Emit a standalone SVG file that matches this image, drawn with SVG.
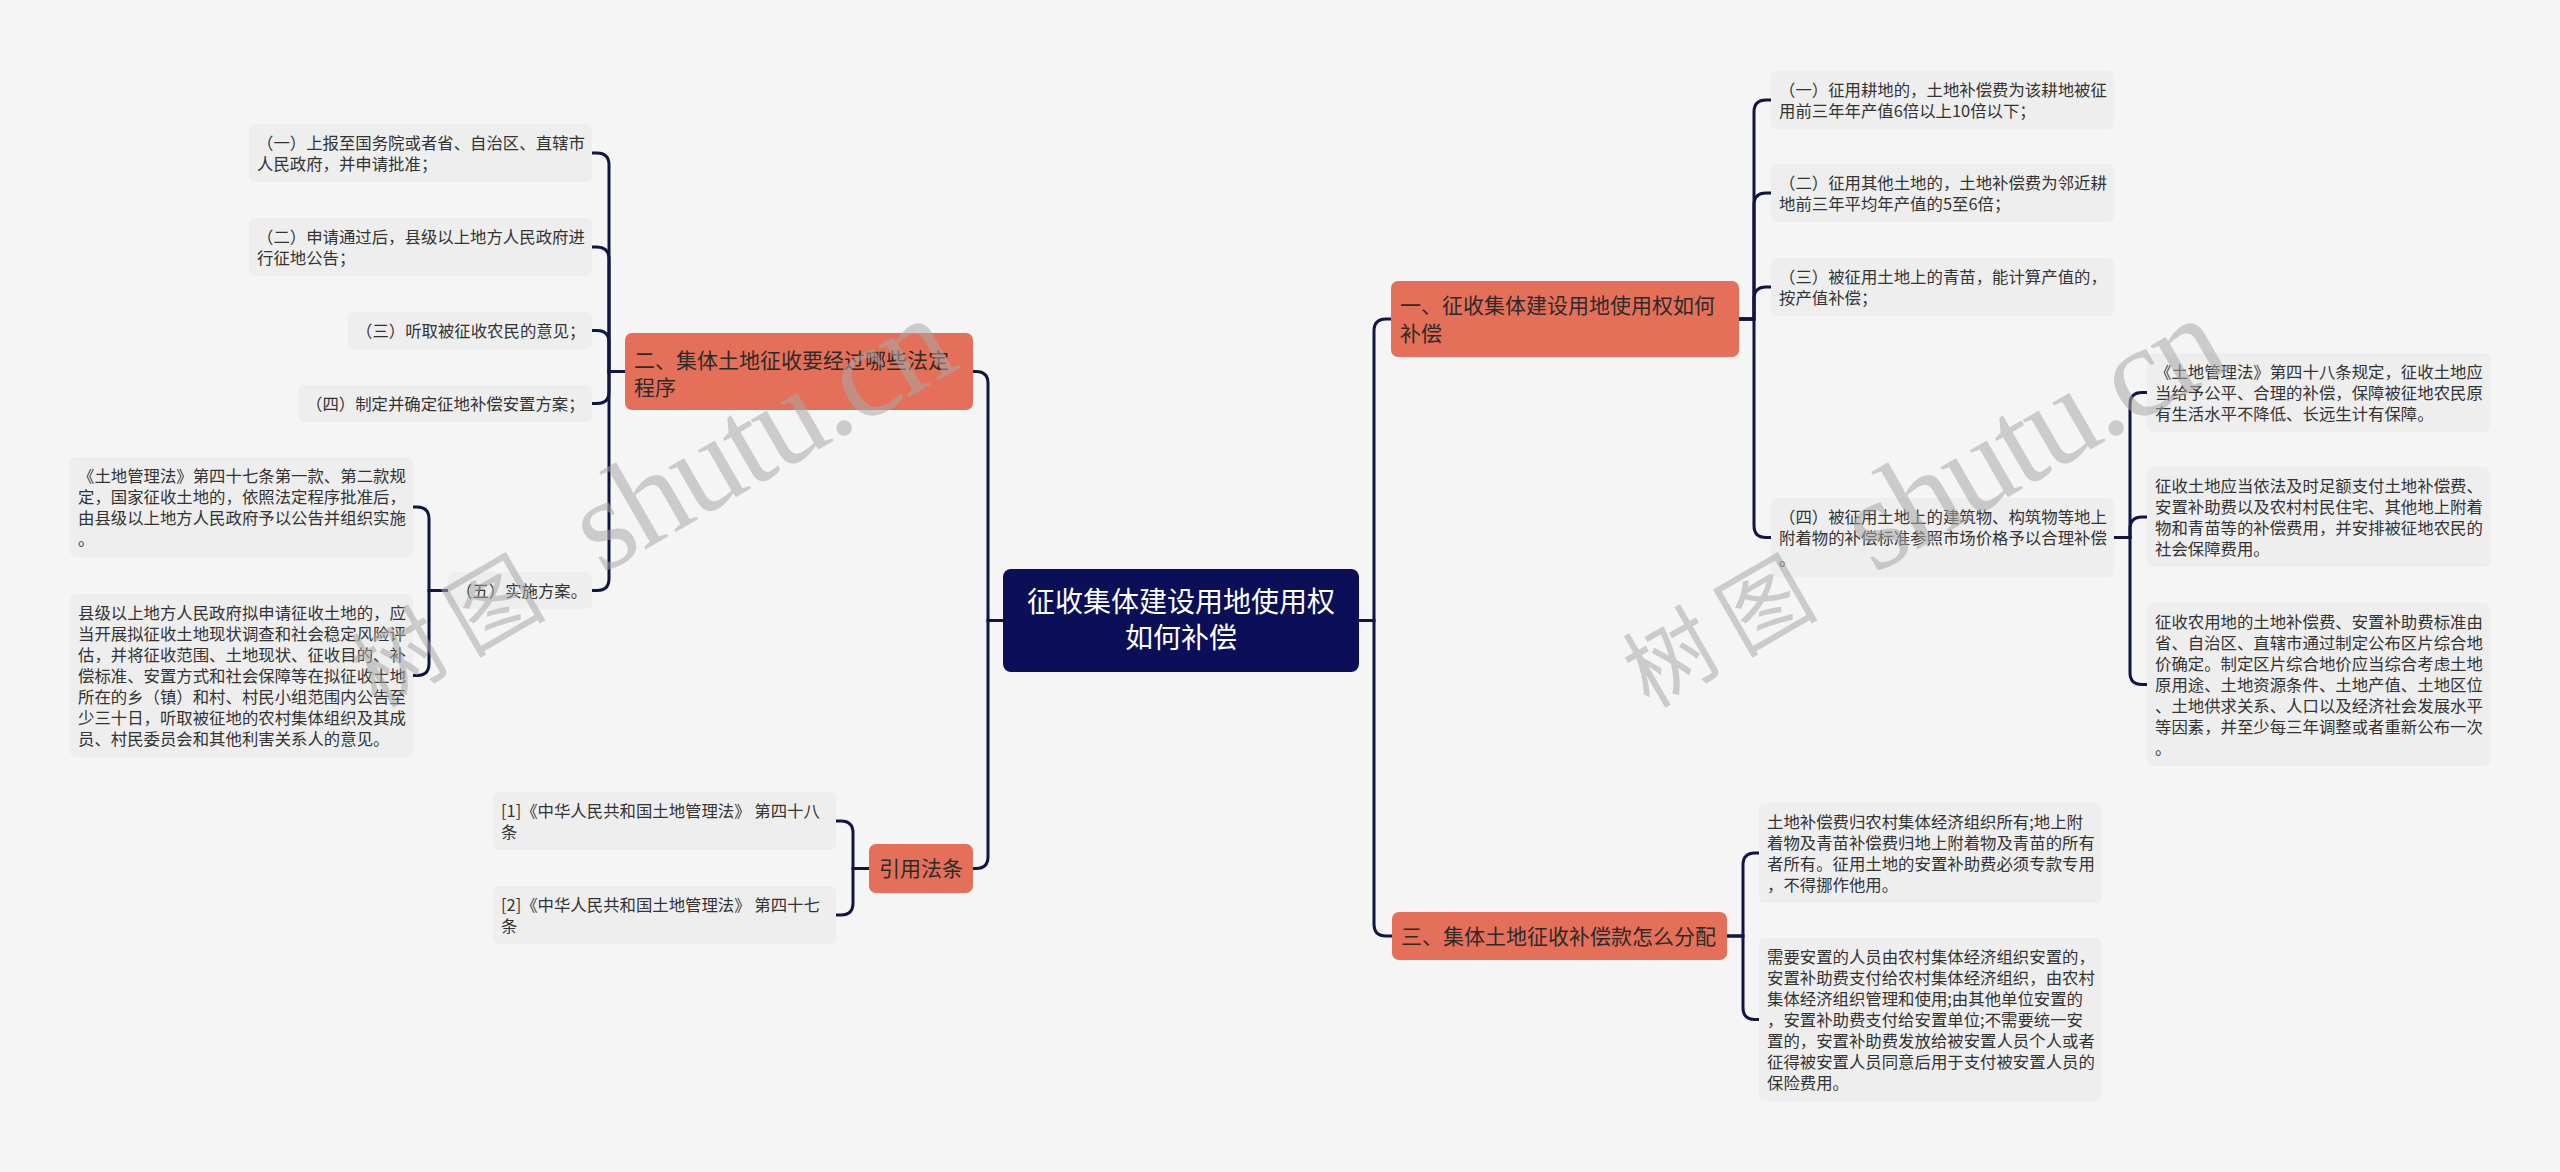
<svg xmlns="http://www.w3.org/2000/svg" width="2560" height="1172" viewBox="0 0 2560 1172">
<style>
.leaf rect{fill:#eeeeee}
.leaf text{font-family:"Noto Sans CJK SC","Noto Sans",sans-serif;font-size:16.4px;fill:#333333}
.l1 rect{fill:#e4705a}
.l1 text{font-family:"Noto Sans CJK SC","Noto Sans",sans-serif;font-size:21px;fill:#2e2a2a}
.root rect{fill:#0b0f58}
.root text{font-family:"Noto Sans CJK SC","Noto Sans",sans-serif;font-size:28px;fill:#ffffff;text-anchor:middle}
.conn path{fill:none;stroke:#101543;stroke-width:3}
.wm text{fill:#a8a8a8;fill-opacity:0.55}
.wm .cjk{font-family:"Noto Sans CJK SC",sans-serif;font-size:90px;letter-spacing:17.6px}
.wm .lat{font-family:"Liberation Serif",serif;font-size:130px;letter-spacing:-3px}
</style>
<rect width="2560" height="1172" fill="#f5f5f5"/>
<g id="connectors" class="conn">
<path d="M1003 620.5 H988 V383.5 Q988 371.5 976 371.5 H973"/>
<path d="M1003 620.5 H988 V856.5 Q988 868.5 976 868.5 H973"/>
<path d="M1359 620.5 H1374 V331 Q1374 319 1386 319 H1391"/>
<path d="M1359 620.5 H1374 V924 Q1374 936 1386 936 H1392"/>
<path d="M1739 319 H1754 V112 Q1754 100 1766 100 H1771"/>
<path d="M1739 319 H1754 V205 Q1754 193 1766 193 H1771"/>
<path d="M1739 319 H1754 V299 Q1754 287 1766 287 H1771"/>
<path d="M1739 319 H1754 V525.5 Q1754 537.5 1766 537.5 H1771"/>
<path d="M2114 537.5 H2130 V404.5 Q2130 392.5 2142 392.5 H2147"/>
<path d="M2114 537.5 H2130 V529 Q2130 517 2142 517 H2147"/>
<path d="M2114 537.5 H2130 V672.5 Q2130 684.5 2142 684.5 H2147"/>
<path d="M1727 936 H1743 V865 Q1743 853 1755 853 H1759"/>
<path d="M1727 936 H1743 V1007.5 Q1743 1019.5 1755 1019.5 H1759"/>
<path d="M625 371.5 H609 V165 Q609 153 597 153 H592"/>
<path d="M625 371.5 H609 V259 Q609 247 597 247 H592"/>
<path d="M625 371.5 H609 V342.5 Q609 330.5 597 330.5 H592"/>
<path d="M625 371.5 H609 V391.5 Q609 403.5 597 403.5 H592"/>
<path d="M625 371.5 H609 V578.5 Q609 590.5 597 590.5 H592"/>
<path d="M448 590.5 H429 V519 Q429 507 417 507 H413"/>
<path d="M448 590.5 H429 V663.5 Q429 675.5 417 675.5 H413"/>
<path d="M869 868.5 H853 V833 Q853 821 841 821 H835"/>
<path d="M869 868.5 H853 V903 Q853 915 841 915 H835"/>
</g>
<g id="root" class="root">
<rect x="1003" y="569" width="356" height="103" rx="8"/>
<text x="1181" y="612">征收集体建设用地使用权</text>
<text x="1181" y="648">如何补偿</text>
</g>
<g id="nodeA" class="l1">
<rect x="1391" y="281" width="348" height="76" rx="7"/>
<text x="1400" y="313">一、征收集体建设用地使用权如何<tspan x="1400" dy="28">补偿</tspan></text>
</g>
<g id="nodeB" class="l1">
<rect x="625" y="333" width="348" height="77" rx="7"/>
<text x="634" y="368">二、集体土地征收要经过哪些法定<tspan x="634" dy="27">程序</tspan></text>
</g>
<g id="nodeC" class="l1">
<rect x="869" y="844" width="104" height="49" rx="7"/>
<text x="879" y="876">引用法条</text>
</g>
<g id="nodeD" class="l1">
<rect x="1392" y="912" width="335" height="48" rx="7"/>
<text x="1401" y="944">三、集体土地征收补偿款怎么分配</text>
</g>
<g id="b1" class="leaf">
<rect x="249" y="124" width="343" height="58" rx="6"/>
<text x="257" y="148.5">（一）上报至国务院或者省、自治区、直辖市<tspan x="257" dy="21">人民政府，并申请批准；</tspan></text>
</g>
<g id="b2" class="leaf">
<rect x="249" y="218" width="343" height="58" rx="6"/>
<text x="257" y="242.5">（二）申请通过后，县级以上地方人民政府进<tspan x="257" dy="21">行征地公告；</tspan></text>
</g>
<g id="b3" class="leaf">
<rect x="348" y="312" width="244" height="37" rx="6"/>
<text x="356" y="336.5">（三）听取被征收农民的意见；</text>
</g>
<g id="b4" class="leaf">
<rect x="298" y="385" width="294" height="37" rx="6"/>
<text x="306" y="409.5">（四）制定并确定征地补偿安置方案；</text>
</g>
<g id="b5" class="leaf">
<rect x="448" y="572" width="144" height="37" rx="6"/>
<text x="456" y="596.5">（五）实施方案。</text>
</g>
<g id="b5a" class="leaf">
<rect x="70" y="457" width="343" height="100" rx="6"/>
<text x="78" y="481.5">《土地管理法》第四十七条第一款、第二款规<tspan x="78" dy="21">定，国家征收土地的，依照法定程序批准后，</tspan><tspan x="78" dy="21">由县级以上地方人民政府予以公告并组织实施</tspan><tspan x="78" dy="21">。</tspan></text>
</g>
<g id="b5b" class="leaf">
<rect x="70" y="594" width="343" height="163" rx="6"/>
<text x="78" y="618.5">县级以上地方人民政府拟申请征收土地的，应<tspan x="78" dy="21">当开展拟征收土地现状调查和社会稳定风险评</tspan><tspan x="78" dy="21">估，并将征收范围、土地现状、征收目的、补</tspan><tspan x="78" dy="21">偿标准、安置方式和社会保障等在拟征收土地</tspan><tspan x="78" dy="21">所在的乡（镇）和村、村民小组范围内公告至</tspan><tspan x="78" dy="21">少三十日，听取被征地的农村集体组织及其成</tspan><tspan x="78" dy="21">员、村民委员会和其他利害关系人的意见。</tspan></text>
</g>
<g id="c1" class="leaf">
<rect x="493" y="792" width="343" height="58" rx="6"/>
<text x="501" y="816.5">[1]《中华人民共和国土地管理法》 第四十八<tspan x="501" dy="21">条</tspan></text>
</g>
<g id="c2" class="leaf">
<rect x="493" y="886" width="343" height="58" rx="6"/>
<text x="501" y="910.5">[2]《中华人民共和国土地管理法》 第四十七<tspan x="501" dy="21">条</tspan></text>
</g>
<g id="a1" class="leaf">
<rect x="1771" y="71" width="343" height="58" rx="6"/>
<text x="1779" y="95.5">（一）征用耕地的，土地补偿费为该耕地被征<tspan x="1779" dy="21">用前三年年产值6倍以上10倍以下；</tspan></text>
</g>
<g id="a2" class="leaf">
<rect x="1771" y="164" width="343" height="58" rx="6"/>
<text x="1779" y="188.5">（二）征用其他土地的，土地补偿费为邻近耕<tspan x="1779" dy="21">地前三年平均年产值的5至6倍；</tspan></text>
</g>
<g id="a3" class="leaf">
<rect x="1771" y="258" width="343" height="58" rx="6"/>
<text x="1779" y="282.5">（三）被征用土地上的青苗，能计算产值的，<tspan x="1779" dy="21">按产值补偿；</tspan></text>
</g>
<g id="a4" class="leaf">
<rect x="1771" y="498" width="343" height="79" rx="6"/>
<text x="1779" y="522.5">（四）被征用土地上的建筑物、构筑物等地上<tspan x="1779" dy="21">附着物的补偿标准参照市场价格予以合理补偿</tspan><tspan x="1779" dy="21">。</tspan></text>
</g>
<g id="a4a" class="leaf">
<rect x="2147" y="353" width="343" height="79" rx="6"/>
<text x="2155" y="377.5">《土地管理法》第四十八条规定，征收土地应<tspan x="2155" dy="21">当给予公平、合理的补偿，保障被征地农民原</tspan><tspan x="2155" dy="21">有生活水平不降低、长远生计有保障。</tspan></text>
</g>
<g id="a4b" class="leaf">
<rect x="2147" y="467" width="343" height="100" rx="6"/>
<text x="2155" y="491.5">征收土地应当依法及时足额支付土地补偿费、<tspan x="2155" dy="21">安置补助费以及农村村民住宅、其他地上附着</tspan><tspan x="2155" dy="21">物和青苗等的补偿费用，并安排被征地农民的</tspan><tspan x="2155" dy="21">社会保障费用。</tspan></text>
</g>
<g id="a4c" class="leaf">
<rect x="2147" y="603" width="343" height="163" rx="6"/>
<text x="2155" y="627.5">征收农用地的土地补偿费、安置补助费标准由<tspan x="2155" dy="21">省、自治区、直辖市通过制定公布区片综合地</tspan><tspan x="2155" dy="21">价确定。制定区片综合地价应当综合考虑土地</tspan><tspan x="2155" dy="21">原用途、土地资源条件、土地产值、土地区位</tspan><tspan x="2155" dy="21">、土地供求关系、人口以及经济社会发展水平</tspan><tspan x="2155" dy="21">等因素，并至少每三年调整或者重新公布一次</tspan><tspan x="2155" dy="21">。</tspan></text>
</g>
<g id="d1" class="leaf">
<rect x="1759" y="803" width="343" height="100" rx="6"/>
<text x="1767" y="827.5">土地补偿费归农村集体经济组织所有;地上附<tspan x="1767" dy="21">着物及青苗补偿费归地上附着物及青苗的所有</tspan><tspan x="1767" dy="21">者所有。征用土地的安置补助费必须专款专用</tspan><tspan x="1767" dy="21">，不得挪作他用。</tspan></text>
</g>
<g id="d2" class="leaf">
<rect x="1759" y="938" width="343" height="163" rx="6"/>
<text x="1767" y="962.5">需要安置的人员由农村集体经济组织安置的，<tspan x="1767" dy="21">安置补助费支付给农村集体经济组织，由农村</tspan><tspan x="1767" dy="21">集体经济组织管理和使用;由其他单位安置的</tspan><tspan x="1767" dy="21">，安置补助费支付给安置单位;不需要统一安</tspan><tspan x="1767" dy="21">置的，安置补助费发放给被安置人员个人或者</tspan><tspan x="1767" dy="21">征得被安置人员同意后用于支付被安置人员的</tspan><tspan x="1767" dy="21">保险费用。</tspan></text>
</g>
<g id="watermark1" class="wm" transform="translate(399 657) rotate(-30)">
<text class="cjk" x="-45" y="34">树图</text>
<text class="lat" x="217" y="30">shutu.cn</text>
</g>
<g id="watermark2" class="wm" transform="translate(1671 657) rotate(-30)">
<text class="cjk" x="-45" y="34">树图</text>
<text class="lat" x="217" y="30">shutu.cn</text>
</g>
</svg>
